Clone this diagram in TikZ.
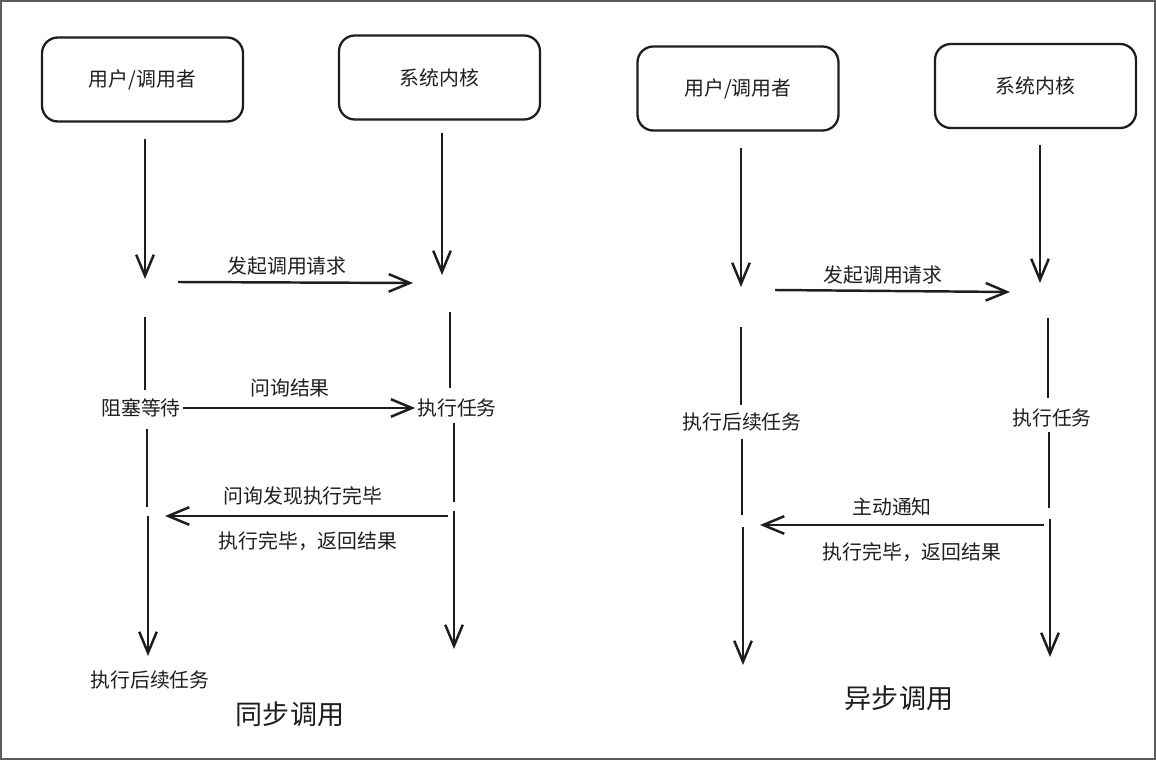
\documentclass[tikz,border=0pt]{standalone}
\usepackage{fontspec}
\setmainfont{Noto Sans CJK SC}
\usepackage{xcolor}
\usetikzlibrary{arrows.meta, positioning}
\definecolor{kink}{HTML}{1E1E1E}
\definecolor{kframe}{HTML}{5C5C5C}
\newcommand\cjklabel{\fontsize{11.3pt}{13pt}\selectfont}
\newcommand\cjktitle{\fontsize{15.4pt}{18pt}\selectfont}

\begin{document}
\begin{tikzpicture}[x=0.02cm, y=-0.02cm,
  actor/.style={draw=kink, line width=1.3pt, rounded corners=9pt,
    minimum width=4.02cm, minimum height=1.68cm, font=\cjklabel, text=kink},
  flow/.style={draw=kink, line width=1.4pt,
    -{Straight Barb[length=12pt, width=10pt]}},
  life/.style={draw=kink, line width=1.4pt},
  lbl/.style={font=\cjklabel, text=kink, inner sep=1pt},
  caption/.style={font=\cjktitle, text=kink},
]

  %% Frame
  \useasboundingbox (0,0) rectangle (1156,760);
  \draw[kframe, line width=0.9pt] (1,1) rectangle (1155,759);

  %% ── 同步调用 ──────────────────────────────────────────────────────────
  \node[actor] (su) at (142.5,79.5) {用户/调用者};
  \node[actor] (sk) at (439.5,77.5) {系统内核};

  %% First lifeline arrows
  \coordinate (sua) at (145,139);  \coordinate (sub) at (145,279);
  \coordinate (ska) at (442,133);  \coordinate (skb) at (442,275);
  \draw[flow] (sua) -- (sub);
  \draw[flow] (ska) -- (skb);

  %% Request
  \coordinate (sreqa) at (178,282);  \coordinate (sreqb) at (413,283);
  \draw[flow] (sreqa) -- (sreqb);
  \node[lbl] (sreq) at (287,266) {发起调用请求};

  %% Waiting / running
  \node[lbl] (sblock) at (141,408) {阻塞等待};
  \node[lbl] (srun) at (457,408) {执行任务};
  \coordinate (suc) at (145,317);  \coordinate (sud) at (145,390);
  \coordinate (skc) at (450,312);  \coordinate (skd) at (450,388);
  \draw[life] (suc) -- (sud);
  \draw[life] (skc) -- (skd);
  \draw[flow] (sblock) -- (srun);
  \node[lbl] (sask) at (290,388) {问询结果};

  %% Lower lifelines
  \coordinate (sue) at (147,429);  \coordinate (suf) at (147,507);
  \coordinate (sug) at (148,516);  \coordinate (suh) at (148,656);
  \coordinate (ske) at (454,423);  \coordinate (skf) at (454,502);
  \coordinate (skg) at (454,511);  \coordinate (skh) at (454,649);
  \draw[life] (sue) -- (suf);
  \draw[flow] (sug) -- (suh);
  \draw[life] (ske) -- (skf);
  \draw[flow] (skg) -- (skh);

  %% Reply
  \coordinate (srepa) at (448,516);  \coordinate (srepb) at (165,516);
  \draw[flow] (srepa) -- (srepb);
  \node[lbl] (sfound) at (303,496) {问询发现执行完毕};
  \node[lbl] (sdone) at (308,541) {执行完毕，返回结果};

  \node[lbl] (snext) at (150,680) {执行后续任务};
  \node[caption] (stitle) at (290,714) {同步调用};

  %% ── 异步调用 ──────────────────────────────────────────────────────────
  \node[actor] (au) at (738,88.5) {用户/调用者};
  \node[actor] (ak) at (1035.5,86) {系统内核};

  \coordinate (aua) at (741,148);   \coordinate (aub) at (741,287);
  \coordinate (aka) at (1040,145);  \coordinate (akb) at (1040,283);
  \draw[flow] (aua) -- (aub);
  \draw[flow] (aka) -- (akb);

  %% Request
  \coordinate (areqa) at (775,290);  \coordinate (areqb) at (1010,292);
  \draw[flow] (areqa) -- (areqb);
  \node[lbl] (areq) at (883,275) {发起调用请求};

  %% Both sides keep working
  \node[lbl] (anext) at (742,422) {执行后续任务};
  \node[lbl] (arun) at (1052,418) {执行任务};
  \coordinate (auc) at (741,327);   \coordinate (aud) at (741,405);
  \coordinate (akc) at (1048,318);  \coordinate (akd) at (1048,398);
  \draw[life] (auc) -- (aud);
  \draw[life] (akc) -- (akd);

  %% Lower lifelines
  \coordinate (aue) at (742,439);   \coordinate (auf) at (742,515);
  \coordinate (aug) at (743,527);   \coordinate (auh) at (743,665);
  \coordinate (ake) at (1049,432);  \coordinate (akf) at (1049,508);
  \coordinate (akg) at (1050,519);  \coordinate (akh) at (1050,657);
  \draw[life] (aue) -- (auf);
  \draw[flow] (aug) -- (auh);
  \draw[life] (ake) -- (akf);
  \draw[flow] (akg) -- (akh);

  %% Notify
  \coordinate (anota) at (1044,525);  \coordinate (anotb) at (760,525);
  \draw[flow] (anota) -- (anotb);
  \node[lbl] (anotify) at (892,507) {主动通知};
  \node[lbl] (adone) at (912,552) {执行完毕，返回结果};

  \node[caption] (atitle) at (899,698) {异步调用};

\end{tikzpicture}
\end{document}
